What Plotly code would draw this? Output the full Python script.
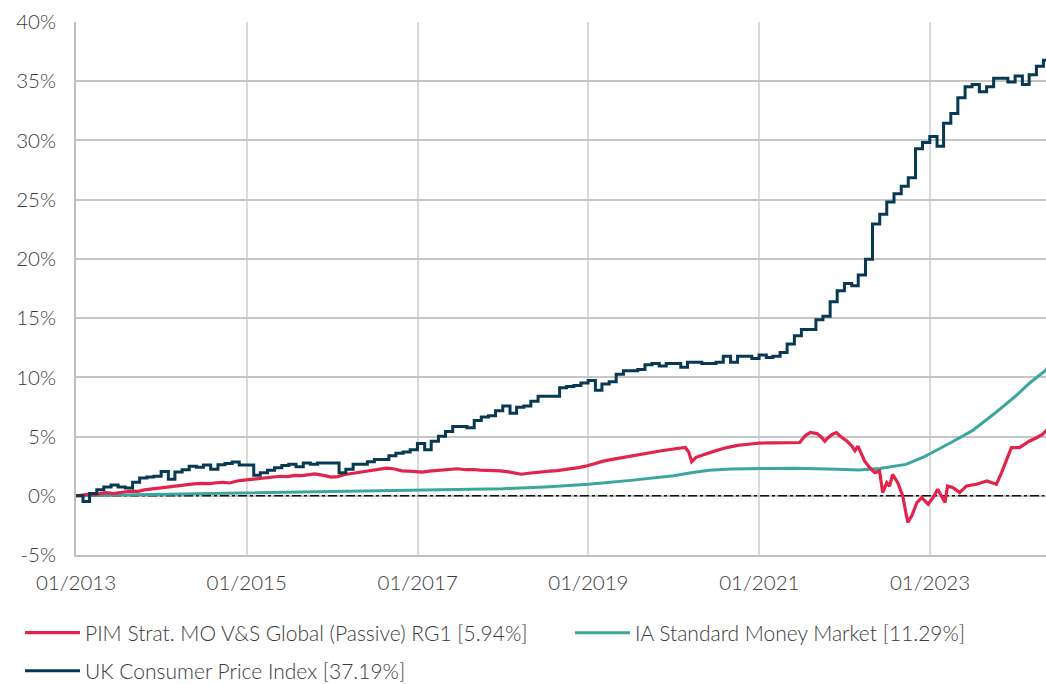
import pandas as pd
import plotly.graph_objects as go

# ---------------- data ----------------
# UK CPI cumulative % change (month-end values, Jan 2013 .. May 2024)
cpi_start_date = "2013-01-01"
cpi_start_value = 0.0
cpi_values = [
    -0.48, 0.20, 0.50, 0.74, 0.90, 0.74, 0.66, 1.15, 1.50, 1.58, 1.64, 2.05,   # 2013
    1.40, 2.00, 2.20, 2.50, 2.40, 2.60, 2.25, 2.62, 2.72, 2.85, 2.60, 2.60,    # 2014
    1.74, 1.95, 2.15, 2.36, 2.56, 2.66, 2.46, 2.77, 2.66, 2.77, 2.77, 2.77,    # 2015
    1.95, 2.25, 2.66, 2.66, 2.87, 3.07, 3.07, 3.38, 3.59, 3.69, 3.89, 4.41,    # 2016
    3.89, 4.61, 5.02, 5.43, 5.84, 5.84, 5.74, 6.35, 6.66, 6.76, 7.17, 7.58,    # 2017
    6.97, 7.48, 7.58, 7.99, 8.40, 8.40, 8.40, 9.12, 9.22, 9.32, 9.53, 9.73,    # 2018
    8.91, 9.43, 9.63, 10.25, 10.55, 10.55, 10.66, 11.07, 11.17, 10.96, 11.17, 11.17,  # 2019
    10.86, 11.27, 11.27, 11.17, 11.17, 11.27, 11.78, 11.27, 11.78, 11.78, 11.58, 11.89,  # 2020
    11.68, 11.78, 12.09, 12.81, 13.52, 14.04, 14.04, 14.86, 15.16, 16.39, 17.32, 17.93,  # 2021
    17.73, 18.65, 19.98, 22.95, 23.77, 24.80, 25.51, 26.13, 26.84, 29.30, 29.82, 30.33,  # 2022
    29.51, 31.45, 32.27, 33.61, 34.53, 34.73, 34.12, 34.53, 35.25, 35.25, 34.94, 35.45,  # 2023
    34.73, 35.55, 36.27, 36.78, 37.19,                                                   # 2024
]
cpi_dates = [cpi_start_date] + [d.strftime("%Y-%m-%d") for d in
                                pd.date_range("2013-01-31", periods=len(cpi_values), freq="ME")]
cpi_series = [cpi_start_value] + cpi_values

# PIM Strat. MO V&S Global (Passive) RG1 cumulative %
pim_dates = [
    "2013-01-01", "2013-01-25", "2013-02-20", "2013-03-15", "2013-04-10", "2013-05-10",
    "2013-06-10", "2013-07-05", "2013-08-01", "2013-09-01", "2013-09-25", "2013-10-20",
    "2013-11-20", "2013-12-20", "2014-01-20", "2014-02-20", "2014-03-20", "2014-04-20",
    "2014-05-20", "2014-06-20", "2014-07-25", "2014-08-25", "2014-09-25", "2014-10-20",
    "2014-11-20", "2014-12-20", "2015-01-25", "2015-02-25", "2015-03-25", "2015-04-25",
    "2015-05-25", "2015-06-25", "2015-07-25", "2015-08-25", "2015-09-20", "2015-10-20",
    "2015-11-25", "2015-12-28", "2016-01-25", "2016-02-25", "2016-03-25", "2016-04-25",
    "2016-05-25", "2016-06-25", "2016-07-25", "2016-08-20", "2016-09-20", "2016-10-25",
    "2016-11-25", "2016-12-20", "2017-01-20", "2017-02-20", "2017-03-20", "2017-04-20",
    "2017-05-20", "2017-06-20", "2017-07-25", "2017-08-25", "2017-09-25", "2017-10-25",
    "2017-11-25", "2017-12-20", "2018-01-25", "2018-02-25", "2018-03-20", "2018-04-20",
    "2018-05-20", "2018-06-20", "2018-07-20", "2018-08-20", "2018-09-20", "2018-10-20",
    "2018-11-20", "2018-12-20", "2019-01-25", "2019-03-10", "2019-04-25", "2019-06-15",
    "2019-08-01", "2019-09-20", "2019-11-10", "2019-12-31", "2020-02-20", "2020-03-05",
    "2020-03-18", "2020-04-05", "2020-05-10", "2020-06-20", "2020-08-10", "2020-09-30",
    "2020-11-15", "2020-12-31", "2021-03-01", "2021-05-01", "2021-06-23", "2021-07-15",
    "2021-08-07", "2021-09-05", "2021-09-26", "2021-10-08", "2021-10-22", "2021-11-10",
    "2021-11-27", "2021-12-12", "2022-01-10", "2022-02-01", "2022-02-14", "2022-02-27",
    "2022-03-15", "2022-03-27", "2022-04-18", "2022-05-10", "2022-05-30", "2022-06-13",
    "2022-06-30", "2022-07-12", "2022-07-25", "2022-08-16", "2022-09-06", "2022-09-28",
    "2022-10-15", "2022-11-06", "2022-11-27", "2022-12-24", "2023-01-14", "2023-02-03",
    "2023-03-06", "2023-03-17", "2023-04-08", "2023-05-08", "2023-06-06", "2023-07-19",
    "2023-09-01", "2023-10-12", "2023-11-03", "2023-11-24", "2023-12-15", "2024-01-18",
    "2024-03-02", "2024-04-01", "2024-04-27", "2024-05-10", "2024-05-31",
]
pim_values = [
    0.00, 0.05, 0.12, 0.08, 0.18, 0.26,
    0.18, 0.28, 0.34, 0.40, 0.38, 0.50,
    0.58, 0.66, 0.70, 0.82, 0.86, 0.92,
    1.00, 1.05, 1.02, 1.10, 1.14, 1.08,
    1.25, 1.32, 1.40, 1.48, 1.52, 1.58,
    1.65, 1.62, 1.72, 1.70, 1.80, 1.85,
    1.72, 1.58, 1.62, 1.80, 1.88, 1.98,
    2.05, 2.18, 2.25, 2.33, 2.28, 2.10,
    2.08, 2.04, 2.00, 2.08, 2.14, 2.20,
    2.24, 2.28, 2.20, 2.22, 2.17, 2.16,
    2.12, 2.10, 2.02, 1.92, 1.82, 1.90,
    1.98, 2.05, 2.08, 2.13, 2.20, 2.28,
    2.38, 2.50, 2.72, 2.95, 3.12, 3.30,
    3.50, 3.62, 3.80, 3.95, 4.08, 3.70,
    2.88, 3.25, 3.45, 3.75, 4.05, 4.25,
    4.35, 4.45, 4.47, 4.48, 4.50, 5.05,
    5.34, 5.25, 4.90, 4.60, 4.90, 5.20,
    5.34, 5.05, 4.63, 4.20, 3.80, 4.20,
    3.50, 2.94, 2.38, 1.96, 2.10, 0.27,
    1.10, 0.80, 1.80, 1.10, 0.00, -2.26,
    -1.70, -0.57, -0.15, -0.72, -0.15, 0.55,
    -0.57, 0.83, 0.70, 0.27, 0.83, 0.97,
    1.25, 0.97, 1.96, 2.94, 4.07, 4.07,
    4.63, 4.90, 5.20, 5.47, 5.94,
]

# IA Standard Money Market cumulative %
mm_dates = [
    "2013-01-01", "2013-07-01", "2014-01-01", "2014-07-01", "2015-01-01", "2015-07-01",
    "2016-01-01", "2016-07-01", "2017-01-01", "2017-07-01", "2018-01-01", "2018-07-01",
    "2019-01-01", "2019-07-01", "2020-01-01", "2020-03-15", "2020-06-01", "2020-09-01",
    "2021-01-01", "2021-06-01", "2021-12-01", "2022-03-01", "2022-06-01", "2022-09-20",
    "2022-12-01", "2023-01-01", "2023-04-01", "2023-07-01", "2023-10-01", "2024-01-01",
    "2024-03-01", "2024-05-10", "2024-05-31",
]
mm_values = [
    0.00, 0.06, 0.11, 0.16, 0.21, 0.26,
    0.31, 0.37, 0.45, 0.52, 0.60, 0.75,
    0.98, 1.30, 1.70, 1.95, 2.15, 2.27,
    2.32, 2.32, 2.25, 2.18, 2.30, 2.65,
    3.25, 3.55, 4.50, 5.50, 6.90, 8.40,
    9.50, 10.60, 11.29,
]

series_names = [
    "PIM Strat. MO V&S Global (Passive) RG1 [5.94%]",
    "IA Standard Money Market [11.29%]",
    "UK Consumer Price Index [37.19%]",
]
colors = ["#e2244c", "#3ba69d", "#073a52"]

y_ticks = [-5, 0, 5, 10, 15, 20, 25, 30, 35, 40]
y_ticktext = ["-5%", "0%", "5%", "10%", "15%", "20%", "25%", "30%", "35%", "40%"]
x_ticks = ["2013-01-01", "2015-01-01", "2017-01-01", "2019-01-01", "2021-01-01", "2023-01-01"]
x_ticktext = ["01/2013", "01/2015", "01/2017", "01/2019", "01/2021", "01/2023"]
x_range = ["2013-01-01", "2024-05-11"]

FONT = "Lato"
TXT = "#3a3a3a"
W, H = 1046, 684

fig = go.Figure()

# zero reference line (dash-dot)
fig.add_trace(go.Scatter(x=[cpi_dates[0], "2024-05-04"], y=[0, 0], mode="lines",
                         line=dict(color="#111111", width=1.6, dash="dashdot"),
                         showlegend=False, hoverinfo="skip"))

fig.add_trace(go.Scatter(x=mm_dates, y=mm_values, mode="lines", name=series_names[1],
                         line=dict(color=colors[1], width=3), legend="legend3"))
fig.add_trace(go.Scatter(x=pim_dates, y=pim_values, mode="lines", name=series_names[0],
                         line=dict(color=colors[0], width=3.2), legend="legend"))
fig.add_trace(go.Scatter(x=cpi_dates, y=cpi_series, mode="lines", name=series_names[2],
                         line=dict(color=colors[2], width=3, shape="hv"), legend="legend2"))

legend_common = dict(orientation="h", xref="container", yref="container",
                     xanchor="left", yanchor="middle",
                     font=dict(family=FONT, size=21, color=TXT, weight=300),
                     itemwidth=55, bgcolor="rgba(0,0,0,0)")

fig.update_layout(
    width=W, height=H, autosize=False,
    margin=dict(l=76, r=0, t=22, b=129, autoexpand=False),
    paper_bgcolor="white", plot_bgcolor="white",
    font=dict(family=FONT, color=TXT, size=20, weight=300),
    showlegend=True,
    legend=dict(x=20 / W, y=1 - 633 / H, **legend_common),
    legend3=dict(x=570 / W, y=1 - 633 / H, **legend_common),
    legend2=dict(x=20 / W, y=1 - 671 / H, **legend_common),
    xaxis=dict(type="date", range=x_range, tickvals=x_ticks, ticktext=x_ticktext,
               showgrid=True, gridcolor="#dadada", gridwidth=2,
               showline=True, linecolor="#c0c0c0", linewidth=2,
               ticks="", zeroline=False, ticklabelstandoff=8, automargin=False,
               tickfont=dict(family=FONT, size=20.5, color=TXT, weight=300)),
    yaxis=dict(range=[-5, 40], tickvals=y_ticks, ticktext=y_ticktext,
               showgrid=True, gridcolor="#c6c6c6", gridwidth=2,
               showline=True, linecolor="#c0c0c0", linewidth=2,
               ticks="", zeroline=False, ticklabelstandoff=14, automargin=False,
               tickfont=dict(family=FONT, size=20.5, color=TXT, weight=300)),
)

fig.write_html(
    "out.html",
    config={"displayModeBar": False},
    post_script="document.body.style.margin='0px';"
                "document.documentElement.style.overflow='hidden';"
                "document.body.style.overflow='hidden';",
)
